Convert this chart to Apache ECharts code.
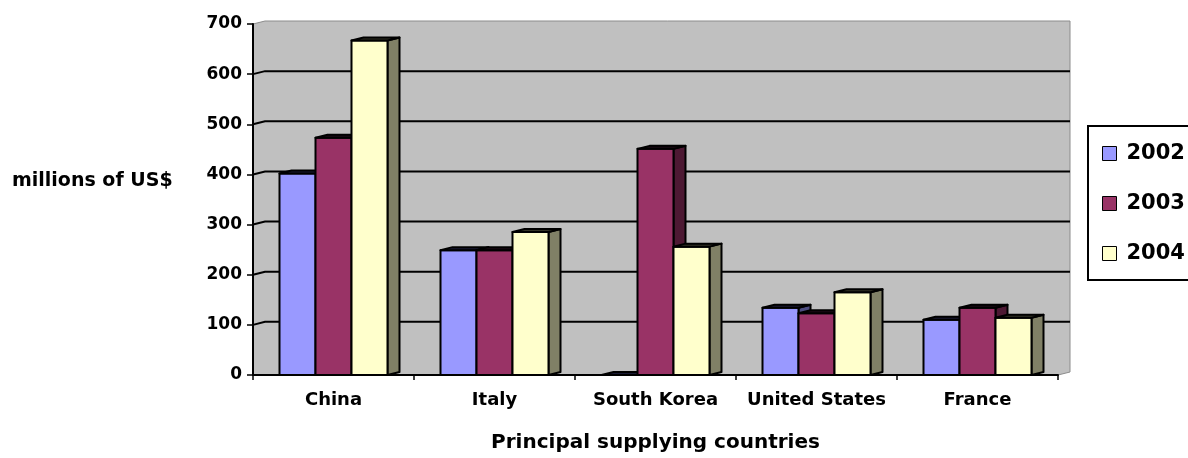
<!DOCTYPE html>
<html><head><meta charset="utf-8">
<script src="https://cdn.jsdelivr.net/npm/echarts@6/dist/echarts.min.js"></script>
<style>html,body{margin:0;padding:0;background:#fff}#c{width:1188px;height:458px}</style>
</head><body><div id="c"></div>
<script>
const categories = ['China', 'Italy', 'South Korea', 'United States', 'France'];
const years = ['2002', '2003', '2004'];
const v2002 = [402, 249, 0, 134, 110];
const v2003 = [473, 249, 451, 123, 134];
const v2004 = [667, 285, 256, 165, 114];
const yTicks = [0, 100, 200, 300, 400, 500, 600, 700];

const seriesValues = [v2002, v2003, v2004];
const FRONT = ['#9999ff', '#993366', '#ffffcc'];
const SIDE = ['#4d4d80', '#4d1933', '#808066'];
const TOPC = ['#1a1a33', '#1a0a14', '#333326'];
const DX = 12, DY = 3, BAR_FRAC = 0.2236;
const FONT = '"DejaVu Sans", sans-serif';

function renderWall(params, api) {
  if (params.dataIndex !== 0) return;
  const cs = params.coordSys;
  const x = cs.x, y = cs.y, w = cs.width, h = cs.height;
  const children = [{
    type: 'polygon',
    shape: { points: [[x, y + h], [x, y], [x + DX, y - DY], [x + w + DX, y - DY], [x + w + DX, y + h - DY], [x + w, y + h]] },
    style: { fill: '#c0c0c0', stroke: '#8c8c8c', lineWidth: 1 }
  }];
  yTicks.forEach(function (v) {
    if (v === yTicks[0] || v === yTicks[yTicks.length - 1]) return;
    const yy = api.coord([0, v])[1];
    children.push({
      type: 'polyline',
      shape: { points: [[x, yy], [x + DX, yy - DY], [x + w + DX, yy - DY]] },
      style: { stroke: '#000', lineWidth: 2, fill: null }
    });
  });
  return { type: 'group', children: children };
}

function makeBarRenderer(si) {
  return function (params, api) {
    const ci = api.value(0), v = api.value(1);
    const base = api.coord([ci, 0]);
    const top = api.coord([ci, v]);
    const band = api.size([1, 0])[0];
    const bw = band * BAR_FRAC;
    const x0 = base[0] + (si - 1.5) * bw;
    const x1 = x0 + bw;
    const y0 = base[1], y1 = top[1];
    const stroke = { stroke: '#000', lineWidth: 2, lineJoin: 'round' };
    return {
      type: 'group',
      children: [
        { type: 'polygon', shape: { points: [[x1, y1], [x1 + DX, y1 - DY], [x1 + DX, y0 - DY], [x1, y0]] },
          style: Object.assign({ fill: SIDE[si] }, stroke) },
        { type: 'rect', shape: { x: x0, y: y1, width: bw, height: y0 - y1 },
          style: Object.assign({ fill: FRONT[si] }, stroke) },
        { type: 'polygon', shape: { points: [[x0, y1], [x0 + DX, y1 - DY], [x1 + DX, y1 - DY], [x1, y1]] },
          style: Object.assign({ fill: TOPC[si] }, stroke) }
      ]
    };
  };
}

const series = [{
  type: 'custom',
  name: 'wall',
  z: -1,
  silent: true,
  renderItem: renderWall,
  data: [[0, 0]],
  encode: { x: 0, y: 1 }
}];
years.forEach(function (yr, si) {
  series.push({
    type: 'custom',
    name: yr,
    itemStyle: { color: FRONT[si], borderColor: '#000', borderWidth: 1 },
    renderItem: makeBarRenderer(si),
    data: seriesValues[si].map(function (v, i) { return [i, v]; }),
    encode: { x: 0, y: 1 }
  });
});

const chart = echarts.init(document.getElementById('c'));
chart.setOption({
  animation: false,
  backgroundColor: '#fff',
  title: {
    text: 'millions of US$', left: 12, top: 172, padding: 0,
    textStyle: { fontFamily: FONT, fontWeight: 'bold', fontSize: 19, color: '#000' }
  },
  legend: {
    orient: 'vertical', left: 1088, top: 126,
    padding: [17, 40, 16, 14], itemGap: 29,
    itemWidth: 14, itemHeight: 14, icon: 'rect',
    borderColor: '#000', borderWidth: 2, backgroundColor: '#fff',
    data: years.map(function (yr, si) {
      return { name: yr, itemStyle: { color: FRONT[si], borderColor: '#000', borderWidth: 1 } };
    }),
    textStyle: { fontFamily: FONT, fontWeight: 'bold', fontSize: 21, color: '#000', padding: [0, 0, 0, 5] }
  },
  grid: { left: 253, right: 130, top: 24, bottom: 80, containLabel: false },
  xAxis: {
    type: 'category', data: categories,
    axisLine: { lineStyle: { color: '#000', width: 2 } },
    axisTick: { show: true, length: 5, interval: 0, lineStyle: { color: '#000', width: 1.5 } },
    axisLabel: { interval: 0, margin: 16, fontFamily: FONT, fontWeight: 'bold', fontSize: 18, color: '#000' },
    name: 'Principal supplying countries', nameLocation: 'middle', nameGap: 58,
    nameTextStyle: { fontFamily: FONT, fontWeight: 'bold', fontSize: 20, color: '#000' },
    splitLine: { show: false }
  },
  yAxis: {
    type: 'value', min: yTicks[0], max: yTicks[yTicks.length - 1], interval: 100,
    axisLine: { show: true, lineStyle: { color: '#000', width: 2 } },
    axisTick: { show: true, length: 6, lineStyle: { color: '#000', width: 1.5 } },
    axisLabel: { margin: 11, fontFamily: FONT, fontWeight: 'bold', fontSize: 17, color: '#000' },
    splitLine: { show: false }
  },
  series: series
});
</script>
</body></html>
